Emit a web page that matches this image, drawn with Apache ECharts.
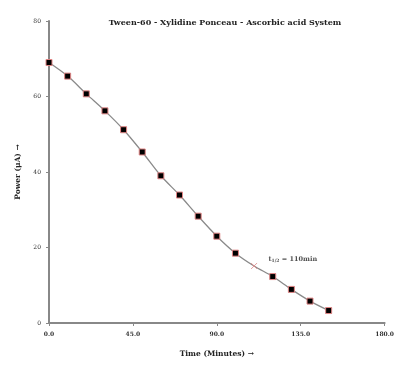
<!DOCTYPE html>
<html><head><meta charset="utf-8">
<script src="https://cdn.jsdelivr.net/npm/echarts@6/dist/echarts.min.js"></script>
<style>html,body{margin:0;padding:0;background:#fff}#c{width:397px;height:365px}</style>
</head><body><div id="c"></div>
<script>
const times = [0,10,20,30,40,50,60,70,80,90,100,120,130,140,150];
const power = [69.0,65.4,60.7,56.2,51.2,45.3,39.0,33.9,28.3,23.0,18.5,12.3,8.9,5.8,3.3];
const halfTime = [110];
const halfPower = [15.1];
const xTicks = [0,45,90,135,180];
const yTicks = [0,20,40,60,80];
const titleText = 'Tween-60 - Xylidine Ponceau - Ascorbic acid System';
const xName = 'Time (Minutes) \u2192';
const yName = 'Power (\u03bcA) \u2192';

const font = 'DejaVu Serif';
const lineData = [];
for (let i = 0; i < times.length; i++) lineData.push([times[i], power[i]]);
lineData.splice(11, 0, {value:[halfTime[0], halfPower[0]], symbol:'none'});

const chart = echarts.init(document.getElementById('c'));
chart.setOption({
  animation:false,
  title:{text:titleText, left:220, top:14, textAlign:'center',
    textStyle:{fontFamily:font, fontWeight:'bold', fontSize:8, color:'#222'}},
  grid:{left:49, right:11, top:21, bottom:42},
  xAxis:{type:'value', min:xTicks[0], max:xTicks[xTicks.length-1], interval:45,
    name:xName, nameLocation:'middle', nameGap:27,
    nameTextStyle:{fontFamily:font, fontWeight:'bold', fontSize:7.5, color:'#222'},
    axisLine:{lineStyle:{color:'#888', width:2}},
    axisTick:{show:true, length:3, lineStyle:{color:'#888'}},
    axisLabel:{fontFamily:font, fontWeight:'bold', fontSize:6, color:'#333', margin:8,
      formatter:v=>v.toFixed(1)},
    splitLine:{show:false}},
  yAxis:{type:'value', min:yTicks[0], max:yTicks[yTicks.length-1], interval:20,
    name:yName, nameLocation:'middle', nameGap:19, nameRotate:90,
    nameTextStyle:{fontFamily:font, fontWeight:'bold', fontSize:7.5, color:'#222'},
    axisLine:{show:true, lineStyle:{color:'#888', width:2}},
    axisTick:{show:true, length:3, lineStyle:{color:'#888'}},
    axisLabel:{fontFamily:font, fontSize:6, color:'#333', margin:8},
    splitLine:{show:false}},
  series:[
    {type:'line', data:lineData, smooth:0.3, symbol:'rect', symbolSize:6,
     lineStyle:{color:'#8a8a8a', width:1.3},
     itemStyle:{color:'#000', borderColor:'#e08585', borderWidth:1}, z:2},
    {type:'scatter', data:[[halfTime[0], halfPower[0]]],
     symbol:'path://M0,0L10,10M10,0L0,10', symbolSize:6,
     itemStyle:{color:'transparent', borderColor:'#e08a8a', borderWidth:1}, z:3,
     label:{show:true, position:'right', offset:[6,-7],
       formatter:'{a|t}{b|1/2}{a| = 110min}',
       rich:{a:{fontFamily:font, fontWeight:'bold', fontSize:6.5, color:'#222'},
             b:{fontFamily:font, fontWeight:'bold', fontSize:4.5, color:'#222', verticalAlign:'bottom', padding:[3,0,0,0]}}}}
  ]
});
</script></body></html>
